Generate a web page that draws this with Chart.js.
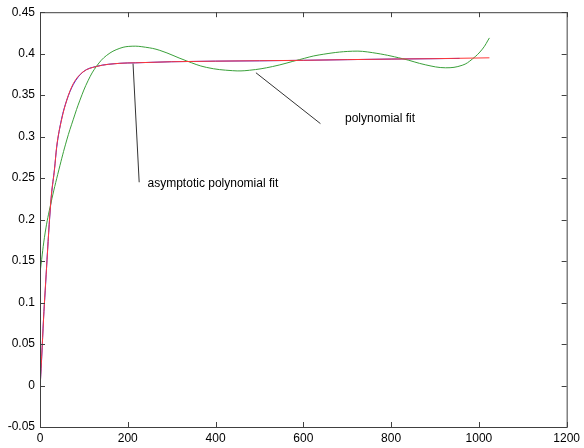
<!DOCTYPE html>
<html>
<head>
<meta charset="utf-8">
<script src="https://cdn.jsdelivr.net/npm/chart.js@4/dist/chart.umd.min.js"></script>
<style>
  body { margin: 0; background: #fff; }
  canvas { display: block; }
</style>
</head>
<body>
<canvas id="myChart" width="584" height="448"></canvas>
<script>
'use strict'

/* global Chart */

// axis ticks
const xTicks = [0, 200, 400, 600, 800, 1000, 1200]
const yTicks = [-0.05, 0, 0.05, 0.1, 0.15, 0.2, 0.25, 0.3, 0.35, 0.4, 0.45]

// measured data (blue)
const dataX = [1, 4, 8, 12, 16, 21, 26, 33, 38, 49, 61, 76, 98, 129, 182, 218, 300, 400, 500, 600, 700, 800, 900, 956]
const dataY = [0.006, 0.035, 0.08, 0.115, 0.152, 0.194, 0.229, 0.261, 0.287, 0.321, 0.344, 0.363, 0.378, 0.3847, 0.3884, 0.389, 0.3903, 0.391, 0.3914, 0.392, 0.3928, 0.3935, 0.394, 0.3943]

// asymptotic polynomial fit (red)
const asymX = [1, 6, 10, 16, 21, 26, 33, 38, 49, 61, 76, 98, 129, 182, 218, 300, 400, 500, 600, 700, 800, 900, 1024]
const asymY = [0.005, 0.058, 0.099, 0.151, 0.195, 0.23, 0.26, 0.288, 0.32, 0.344, 0.364, 0.378, 0.3846, 0.3884, 0.389, 0.3903, 0.391, 0.3915, 0.392, 0.3928, 0.3935, 0.394, 0.395]

// polynomial fit (green)
const polyX = [1, 12, 25, 43, 61, 76, 91, 110, 129, 152, 182, 210, 240, 273, 333, 379, 439, 477, 530, 591, 636, 712, 758, 826, 879, 924, 962, 985, 1008, 1024]
const polyY = [0.14, 0.185, 0.22, 0.26, 0.296, 0.321, 0.344, 0.368, 0.385, 0.398, 0.4065, 0.409, 0.4078, 0.404, 0.3915, 0.3835, 0.3795, 0.38, 0.3845, 0.3928, 0.3985, 0.403, 0.4012, 0.394, 0.3865, 0.383, 0.386, 0.3935, 0.4055, 0.419]

// text labels with leader lines, in data units
const labelText = ['asymptotic polynomial fit', 'polynomial fit']
const labelAt = [[245, 0.243], [695, 0.3214]]
const leaderFrom = [[212, 0.388], [492, 0.377]]
const leaderTo = [[226, 0.245], [639, 0.3157]]

function points (xs, ys) {
  return xs.map((x, i) => ({ x, y: ys[i] }))
}

// MATLAB style box with inward ticks, plus the text notes
const boxPlugin = {
  id: 'box',
  afterDatasetsDraw (chart) {
    const { ctx, chartArea: a, scales } = chart
    const tick = 5
    ctx.save()
    ctx.strokeStyle = '#404040'
    ctx.lineWidth = 1
    ctx.strokeRect(a.left + 0.5, a.top + 0.5, a.right - a.left, a.bottom - a.top)
    ctx.beginPath()
    for (const v of xTicks) {
      const px = Math.round(scales.x.getPixelForValue(v)) + 0.5
      ctx.moveTo(px, a.bottom); ctx.lineTo(px, a.bottom - tick)
      ctx.moveTo(px, a.top); ctx.lineTo(px, a.top + tick)
    }
    for (const v of yTicks) {
      const py = Math.round(scales.y.getPixelForValue(v)) + 0.5
      ctx.moveTo(a.left, py); ctx.lineTo(a.left + tick, py)
      ctx.moveTo(a.right, py); ctx.lineTo(a.right - tick, py)
    }
    ctx.stroke()

    ctx.strokeStyle = '#333'
    ctx.beginPath()
    leaderFrom.forEach((p, i) => {
      const q = leaderTo[i]
      ctx.moveTo(scales.x.getPixelForValue(p[0]), scales.y.getPixelForValue(p[1]))
      ctx.lineTo(scales.x.getPixelForValue(q[0]), scales.y.getPixelForValue(q[1]))
    })
    ctx.stroke()

    ctx.fillStyle = '#000'
    ctx.font = '12px "Liberation Sans", Arial, sans-serif'
    ctx.textBaseline = 'middle'
    labelText.forEach((t, i) => {
      ctx.fillText(t, scales.x.getPixelForValue(labelAt[i][0]), scales.y.getPixelForValue(labelAt[i][1]))
    })
    ctx.restore()
  }
}

const myChartCtx = document.querySelector('#myChart')
const tickFont = { family: '"Liberation Sans", Arial, sans-serif', size: 12 }

// first dataset is drawn on top
const myChart = new Chart(myChartCtx, {
  type: 'line',
  data: {
    datasets: [{
      label: 'asymptotic polynomial fit',
      data: points(asymX, asymY),
      borderColor: '#ff3838',
      borderWidth: 1,
      cubicInterpolationMode: 'monotone',
      pointRadius: 0,
      fill: false
    }, {
      label: 'polynomial fit',
      data: points(polyX, polyY),
      borderColor: '#3aa03a',
      borderWidth: 1,
      tension: 0.4,
      pointRadius: 0,
      fill: false
    }, {
      label: 'data',
      data: points(dataX, dataY),
      borderColor: '#2020ff',
      borderWidth: 1,
      cubicInterpolationMode: 'monotone',
      pointRadius: 0,
      fill: false
    }]
  },
  options: {
    responsive: false,
    animation: false,
    layout: { padding: { top: 11, right: 16, left: 0, bottom: 0 } },
    plugins: {
      legend: { display: false },
      tooltip: { enabled: false }
    },
    scales: {
      x: {
        type: 'linear',
        min: 0,
        max: 1200,
        grid: { display: false, drawTicks: false },
        border: { display: false },
        afterBuildTicks: (s) => { s.ticks = xTicks.map(v => ({ value: v })) },
        afterFit: (s) => { s.height = 21 },
        ticks: { font: tickFont, color: '#000', padding: 4, maxRotation: 0, callback: (v) => String(v) }
      },
      y: {
        min: -0.05,
        max: 0.45,
        grid: { display: false, drawTicks: false },
        border: { display: false },
        afterBuildTicks: (s) => { s.ticks = yTicks.map(v => ({ value: v })) },
        afterFit: (s) => { s.width = 40 },
        ticks: { font: tickFont, color: '#000', padding: 5, callback: (v) => String(v) }
      }
    }
  },
  plugins: [boxPlugin]
})
</script>
</body>
</html>
